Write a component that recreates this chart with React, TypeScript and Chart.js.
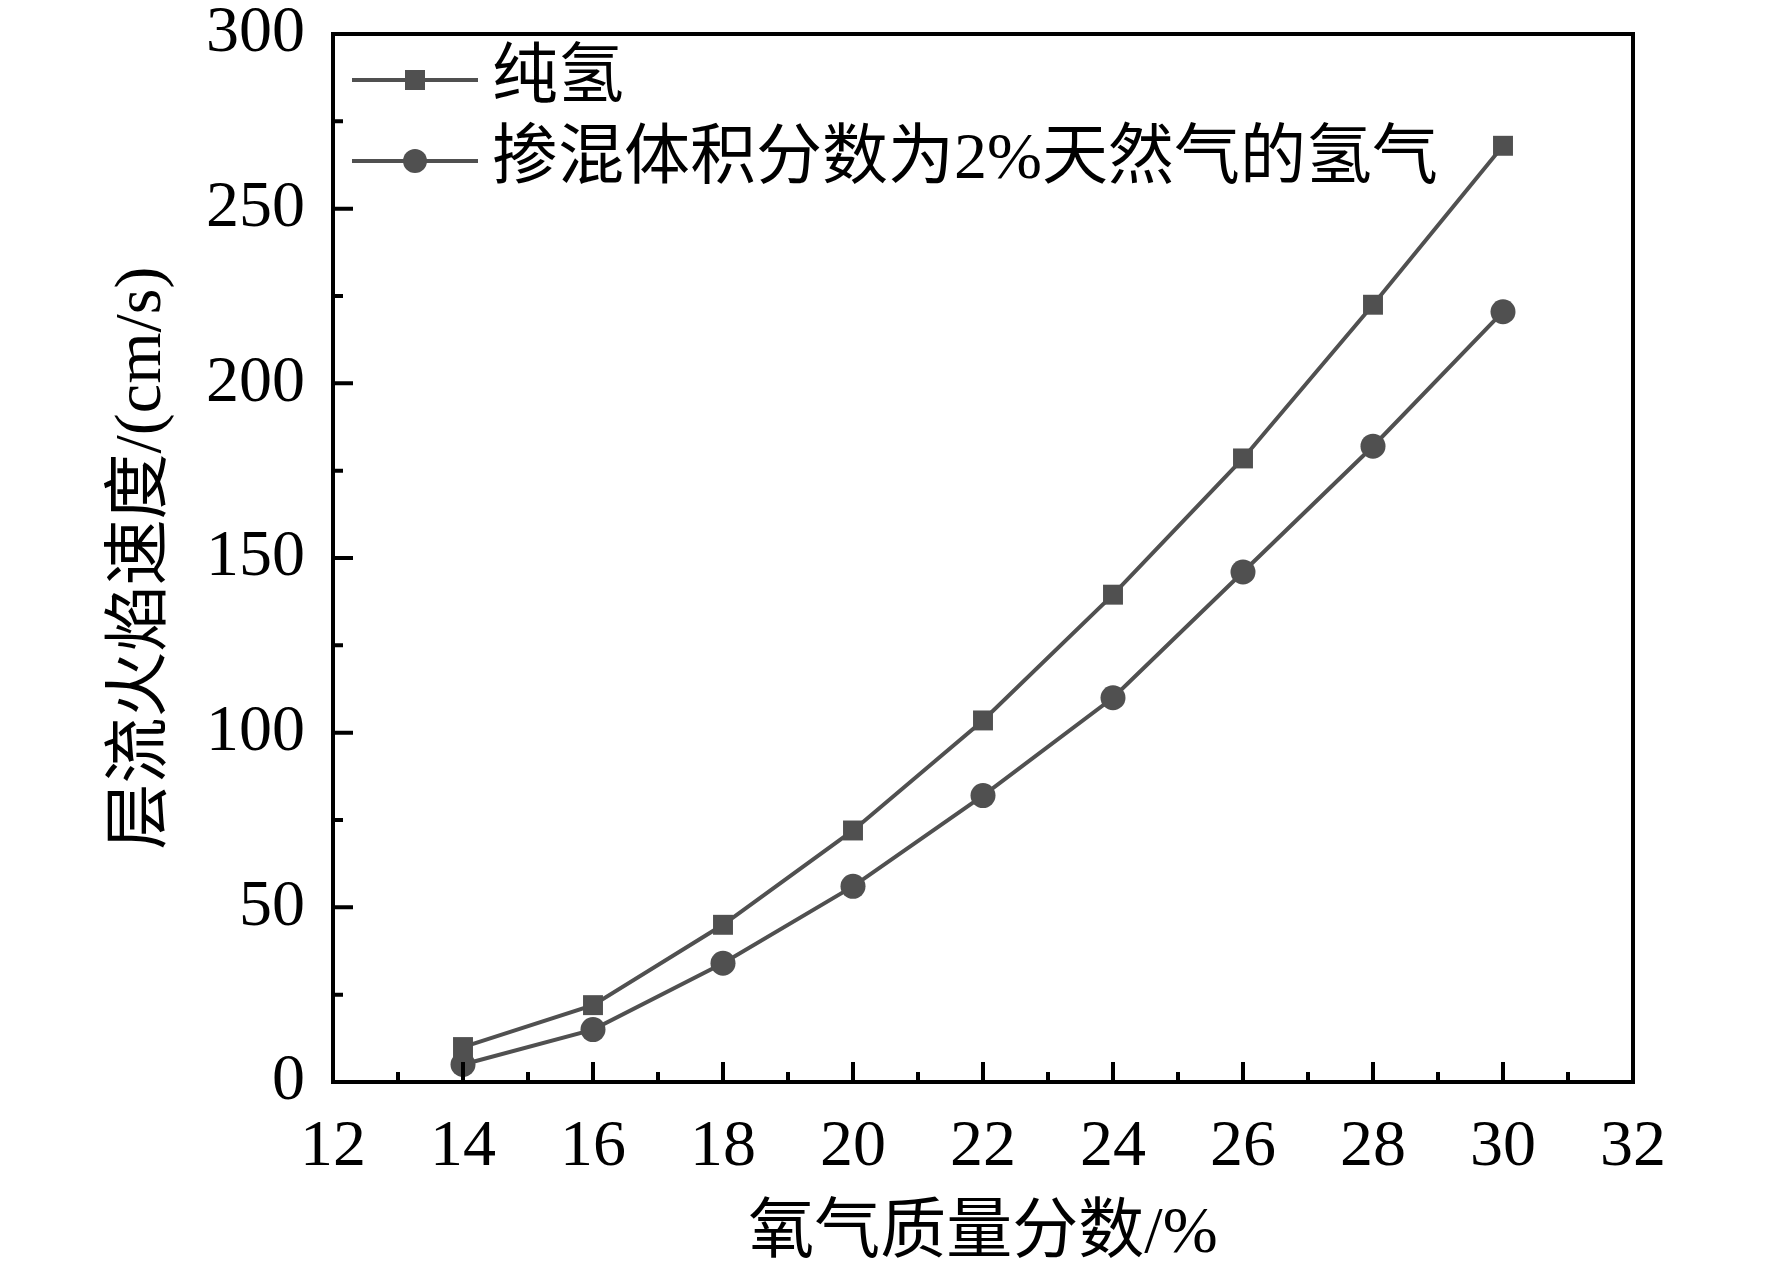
import { useEffect, useRef } from 'react';
import { Chart, registerables } from 'chart.js';

Chart.register(...registerables);

// 氧气质量分数 (%)
const oxygenFraction = [14, 16, 18, 20, 22, 24, 26, 28, 30];
// 层流火焰速度 (cm/s)
const pureHydrogen = [10, 22, 45, 72, 103.5, 139.5, 178.5, 222.5, 268];
const blendedHydrogen = [5, 15, 34, 56, 82, 110, 146, 182, 220.5];
const seriesNames = ['纯氢', '掺混体积分数为2%天然气的氢气'];
const xTitle = '氧气质量分数/%';
const yTitle = '层流火焰速度/(cm/s)';

const FONT = '"Liberation Serif", "Times New Roman", "Noto Sans CJK SC", serif';
const GREY = '#505050';

// box round the plot, plus inward major/minor ticks on the left and bottom axes
const frameAndTicks = {
  id: 'frameAndTicks',
  afterDatasetsDraw(chart: any) {
    const { ctx, chartArea: a, scales } = chart;
    ctx.save();
    ctx.strokeStyle = '#000';
    ctx.lineWidth = 4;
    ctx.strokeRect(a.left, a.top, a.right - a.left, a.bottom - a.top);

    const marks = (scale: any) => {
      const vals = scale.ticks.map((t: any) => t.value);
      const out: [number, number][] = [];
      vals.forEach((v: number, i: number) => {
        out.push([v, 20]);
        if (i < vals.length - 1) out.push([(v + vals[i + 1]) / 2, 10]);
      });
      return out;
    };

    ctx.beginPath();
    marks(scales.y).forEach(([v, len]) => {
      const y = scales.y.getPixelForValue(v);
      ctx.moveTo(a.left, y);
      ctx.lineTo(a.left + len, y);
    });
    marks(scales.x).forEach(([v, len]) => {
      const x = scales.x.getPixelForValue(v);
      ctx.moveTo(x, a.bottom);
      ctx.lineTo(x, a.bottom - len);
    });
    ctx.stroke();
    ctx.restore();
  },
};

// legend inside the plot, line with the marker on it
const innerLegend = {
  id: 'innerLegend',
  afterDraw(chart: any) {
    const { ctx, chartArea: a } = chart;
    ctx.save();
    ctx.font = `66px ${FONT}`;
    ctx.textBaseline = 'middle';
    ctx.textAlign = 'left';
    chart.data.datasets.forEach((ds: any, i: number) => {
      const y = a.top + 46 + i * 81;
      const x0 = a.left + 19;
      const x1 = a.left + 145;
      const cx = (x0 + x1) / 2;
      ctx.strokeStyle = ds.borderColor;
      ctx.lineWidth = ds.borderWidth;
      ctx.beginPath();
      ctx.moveTo(x0, y);
      ctx.lineTo(x1, y);
      ctx.stroke();
      ctx.fillStyle = ds.pointBackgroundColor;
      if (ds.pointStyle === 'rect') {
        ctx.fillRect(cx - 10, y - 10, 20, 20);
      } else {
        ctx.beginPath();
        ctx.arc(cx, y, 12, 0, Math.PI * 2);
        ctx.fill();
      }
      ctx.fillStyle = '#000';
      ctx.fillText(ds.label, a.left + 159, y);
    });
    ctx.restore();
  },
};

const FlameSpeedChart = () => {
  const canvasRef = useRef<HTMLCanvasElement>(null);
  const chartRef = useRef<Chart | null>(null);

  useEffect(() => {
    if (!canvasRef.current) return;
    if (chartRef.current) chartRef.current.destroy();

    const toPoints = (vals: number[]) => vals.map((v, i) => ({ x: oxygenFraction[i], y: v }));

    chartRef.current = new Chart(canvasRef.current, {
      type: 'line',
      data: {
        datasets: [
          {
            label: seriesNames[0],
            data: toPoints(pureHydrogen),
            borderColor: GREY,
            borderWidth: 4,
            pointStyle: 'rect',
            pointRadius: 14.1,
            pointBackgroundColor: GREY,
            pointBorderWidth: 0,
            tension: 0,
          },
          {
            label: seriesNames[1],
            data: toPoints(blendedHydrogen),
            borderColor: GREY,
            borderWidth: 4,
            pointStyle: 'circle',
            pointRadius: 12.5,
            pointBackgroundColor: GREY,
            pointBorderWidth: 0,
            tension: 0,
          },
        ],
      },
      options: {
        animation: false,
        responsive: true,
        maintainAspectRatio: false,
        layout: { padding: { top: 34, right: 139, left: 0, bottom: 0 } },
        plugins: {
          legend: { display: false },
          tooltip: { enabled: false },
        },
        scales: {
          x: {
            type: 'linear',
            min: 12,
            max: 32,
            grid: { display: false, drawTicks: false },
            border: { display: false },
            ticks: {
              stepSize: 2,
              padding: 33,
              color: '#000',
              font: { family: FONT, size: 66, lineHeight: 1 },
            },
            title: {
              display: true,
              text: xTitle,
              color: '#000',
              font: { family: FONT, size: 66, lineHeight: 1.2 },
              padding: { top: 0, bottom: 3 },
            },
            afterFit: (s: any) => {
              s.height = 195;
              s.paddingLeft = 0;
              s.paddingRight = 0;
            },
          },
          y: {
            min: 0,
            max: 300,
            grid: { display: false, drawTicks: false },
            border: { display: false },
            ticks: {
              stepSize: 50,
              padding: 28,
              color: '#000',
              font: { family: FONT, size: 66, lineHeight: 1 },
            },
            title: {
              display: true,
              text: yTitle,
              color: '#000',
              font: { family: FONT, size: 66, lineHeight: 1.2 },
              padding: { top: 103, bottom: 0 },
            },
            afterFit: (s: any) => {
              s.width = 333;
              s.paddingTop = 0;
              s.paddingBottom = 0;
            },
          },
        },
      },
      plugins: [frameAndTicks, innerLegend],
    });

    return () => {
      if (chartRef.current) {
        chartRef.current.destroy();
        chartRef.current = null;
      }
    };
  }, []);

  return (
    <div style={{ position: 'fixed', left: 0, top: 0, width: 1772, height: 1277, background: '#fff' }}>
      <canvas ref={canvasRef} />
    </div>
  );
};

export default function App() {
  return <FlameSpeedChart />;
}
